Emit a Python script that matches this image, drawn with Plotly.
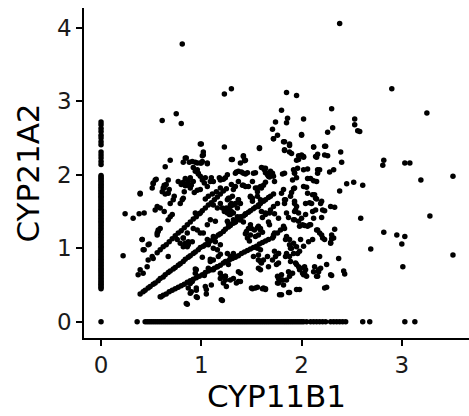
import plotly.graph_objects as go

# x = 0 column (CYP11B1 = 0)
col0_y = [0.00, 2.72, 2.68, 2.63, 2.59, 2.54, 2.50, 2.45, 2.41, 2.31, 2.27, 2.23, 2.18, 2.14,
          1.99, 1.97, 1.95, 1.93, 1.91, 1.89, 1.87, 1.85, 1.83, 1.81, 1.79, 1.77, 1.75, 1.73,
          1.71, 1.69, 1.67, 1.65, 1.63, 1.61, 1.59, 1.57, 1.55, 1.53, 1.51, 1.49, 1.47, 1.45,
          1.43, 1.41, 1.39, 1.37, 1.35, 1.33, 1.31, 1.29, 1.27, 1.25, 1.23, 1.21, 1.19, 1.17,
          1.15, 1.13, 1.11, 1.09, 1.07, 1.05, 1.03, 1.01, 0.99, 0.97, 0.95, 0.93, 0.91, 0.89,
          0.87, 0.85, 0.83, 0.81, 0.79, 0.77, 0.75, 0.73, 0.71, 0.69, 0.67, 0.65, 0.63, 0.61,
          0.59, 0.57, 0.55, 0.53, 0.51, 0.49, 0.47, 0.45]

# y = 0 row (CYP21A2 = 0)
row0_x = [0.36, 0.44, 0.46, 0.48, 0.50, 0.52, 0.54, 0.56, 0.58, 0.60, 0.62, 0.64, 0.66, 0.68,
          0.70, 0.72, 0.74, 0.76, 0.78, 0.80, 0.82, 0.84, 0.86, 0.88, 0.90, 0.92, 0.94, 0.96,
          0.98, 1.00, 1.02, 1.04, 1.06, 1.08, 1.10, 1.12, 1.14, 1.16, 1.18, 1.20, 1.22, 1.24,
          1.26, 1.28, 1.30, 1.32, 1.34, 1.36, 1.38, 1.40, 1.42, 1.44, 1.46, 1.48, 1.50, 1.52,
          1.54, 1.56, 1.58, 1.60, 1.62, 1.64, 1.66, 1.68, 1.70, 1.72, 1.74, 1.76, 1.78, 1.80,
          1.82, 1.84, 1.86, 1.88, 1.90, 1.92, 1.94, 1.96, 1.98, 2.00, 2.02, 2.05, 2.09, 2.12,
          2.15, 2.18, 2.21, 2.24, 2.29, 2.32, 2.35, 2.38, 2.41, 2.44, 2.61, 2.68, 3.03, 3.13]

# main diagonal streak
diag_main_x = [0.39, 0.42, 0.44, 0.47, 0.49, 0.52, 0.54, 0.57, 0.59, 0.62, 0.64, 0.67, 0.69, 0.72,
               0.74, 0.77, 0.79, 0.82, 0.84, 0.87, 0.89, 0.92, 0.94, 0.97, 0.99, 1.02, 1.04, 1.07,
               1.09, 1.12, 1.14, 1.17, 1.19, 1.22, 1.24, 1.27, 1.29, 1.32, 1.34, 1.37, 1.39, 1.42,
               1.44, 1.47, 1.49, 1.52, 1.54, 1.57, 1.59, 1.62, 1.64, 1.67, 1.69, 1.72]
diag_main_y = [0.38, 0.41, 0.43, 0.46, 0.48, 0.51, 0.53, 0.56, 0.59, 0.61, 0.64, 0.67, 0.69, 0.72,
               0.74, 0.77, 0.79, 0.82, 0.85, 0.88, 0.90, 0.93, 0.95, 0.98, 1.01, 1.03, 1.05, 1.08,
               1.10, 1.13, 1.15, 1.18, 1.20, 1.23, 1.26, 1.29, 1.31, 1.34, 1.36, 1.39, 1.41, 1.44,
               1.46, 1.49, 1.51, 1.54, 1.56, 1.59, 1.61, 1.64, 1.66, 1.69, 1.71, 1.74]

# upper diagonal streak
diag_up_x = [0.56, 0.59, 0.62, 0.65, 0.68, 0.71, 0.74, 0.77, 0.80, 0.83, 0.86, 0.89, 0.92, 0.95,
             0.98, 1.01, 1.04, 1.07, 1.10, 1.13, 1.16, 1.19, 1.22, 1.25]
diag_up_y = [0.94, 0.98, 1.02, 1.05, 1.09, 1.13, 1.17, 1.21, 1.24, 1.28, 1.32, 1.36, 1.40, 1.43,
             1.47, 1.51, 1.55, 1.59, 1.62, 1.66, 1.70, 1.74, 1.78, 1.81]

# lower diagonal streak
diag_low_x = [0.59, 0.62, 0.65, 0.68, 0.71, 0.74, 0.77, 0.80, 0.83, 0.86, 0.89, 0.92, 0.95, 0.98,
              1.01, 1.04, 1.07, 1.10, 1.13, 1.16, 1.19, 1.22, 1.25, 1.28, 1.31, 1.34, 1.37, 1.40,
              1.43, 1.46, 1.49, 1.52, 1.55, 1.58, 1.61, 1.64]
diag_low_y = [0.34, 0.36, 0.38, 0.41, 0.43, 0.45, 0.47, 0.49, 0.51, 0.54, 0.56, 0.58, 0.60, 0.62,
              0.64, 0.67, 0.69, 0.71, 0.73, 0.75, 0.77, 0.80, 0.82, 0.84, 0.86, 0.88, 0.90, 0.93,
              0.95, 0.97, 0.99, 1.01, 1.03, 1.06, 1.08, 1.10]

# scattered cells (CYP11B1, CYP21A2)
scatter_pts = [
    (2.38, 4.06), (0.81, 3.78), (1.30, 3.17), (1.23, 3.10), (1.85, 3.12), (1.95, 3.08), (2.90, 3.17),
    (2.30, 2.90), (3.25, 2.84), (0.75, 2.83), (0.80, 2.70), (0.61, 2.74), (1.80, 2.88), (1.86, 2.77),
    (1.85, 2.71), (1.74, 2.72), (2.02, 2.76), (1.71, 2.62), (1.72, 2.49), (1.76, 2.54), (2.31, 2.64),
    (2.26, 2.58), (2.00, 2.55), (2.00, 2.54), (2.53, 2.76), (2.53, 2.68), (2.56, 2.60), (2.58, 2.59),
    (1.83, 2.45), (1.88, 2.40), (1.58, 2.37), (1.23, 2.38), (0.99, 2.42), (2.12, 2.38), (2.24, 2.39),
    (2.39, 2.31), (1.83, 2.34), (1.90, 2.29), (2.00, 2.27), (2.02, 2.25), (2.16, 2.28), (2.14, 2.25),
    (2.26, 2.26), (1.97, 2.21), (2.40, 2.17), (2.82, 2.20), (2.81, 2.13), (3.03, 2.16), (3.08, 2.16),
    (2.52, 1.90), (2.45, 1.88), (2.61, 1.86), (3.19, 1.93), (3.51, 1.98), (2.38, 1.78), (2.33, 1.56),
    (2.59, 1.41), (3.28, 1.44), (2.33, 1.26), (2.82, 1.22), (2.95, 1.18), (3.03, 1.16), (3.00, 1.06),
    (2.69, 0.99), (3.51, 0.91), (3.01, 0.75), (2.37, 0.86), (2.30, 1.13), (2.29, 1.08), (2.21, 1.14),
    (2.25, 0.78), (2.30, 0.63), (2.25, 0.47), (2.42, 0.69), (2.43, 0.65),
    (0.22, 0.90), (0.24, 1.47), (0.32, 1.41), (0.39, 1.75), (0.38, 1.47), (0.43, 1.48), (0.41, 1.12),
    (0.43, 0.98), (0.48, 1.06), (0.37, 0.64), (0.46, 0.75), (0.52, 0.86), (0.67, 0.89), (0.60, 0.34),
    (0.86, 0.24), (1.21, 0.29), (0.89, 0.39), (0.96, 0.33), (0.95, 0.43), (1.05, 0.38), (1.10, 0.50),
    (1.03, 0.63), (0.94, 0.72), (1.01, 0.88), (1.09, 0.85), (1.19, 0.92), (0.91, 0.55), (0.89, 0.52),
    (1.98, 0.44), (1.88, 0.40), (1.80, 0.37), (1.51, 0.45), (1.56, 0.47), (1.61, 0.45), (1.64, 0.45),
    # upper-left cluster
    (1.00, 2.42), (1.02, 2.31), (1.01, 2.26), (0.85, 2.23), (0.69, 2.20), (0.82, 2.17), (0.88, 2.17),
    (0.94, 2.17), (1.00, 2.16), (1.06, 2.15), (0.64, 2.11), (0.92, 2.10), (0.94, 2.05), (0.97, 2.01),
    (0.99, 1.98), (1.04, 1.96), (1.10, 1.96), (1.18, 1.96), (1.24, 1.96), (0.89, 1.96), (0.87, 1.91),
    (0.84, 1.85), (0.67, 1.93), (0.65, 1.87), (0.63, 1.82), (0.55, 1.94), (0.52, 1.88), (0.51, 1.82),
    (0.77, 1.91), (0.80, 1.87), (0.39, 1.74),
    (0.54, 1.93), (0.52, 1.89), (0.63, 1.86), (0.62, 1.82), (0.61, 1.77), (0.64, 1.74), (0.68, 1.80),
    (0.67, 1.75), (0.73, 1.71), (0.72, 1.66), (0.69, 1.61), (0.54, 1.52), (0.56, 1.57), (0.63, 1.50),
    (0.59, 1.55), (0.56, 1.21), (0.57, 1.25), (0.59, 1.27), (0.69, 1.43), (0.67, 1.39), (0.71, 1.46),
    (0.81, 1.66), (0.79, 1.61), (0.82, 1.68), (0.84, 1.95), (0.82, 1.90), (0.86, 1.86), (0.83, 1.77),
    (0.92, 1.91), (0.90, 1.86), (0.89, 1.82), (0.96, 2.07), (0.97, 2.02), (1.01, 1.93), (1.03, 1.89),
    (1.06, 1.84), (0.93, 1.76), (0.96, 1.79), (0.99, 1.80), (1.09, 1.91), (1.12, 1.91), (1.19, 1.93),
    (1.22, 1.94), (1.26, 2.00), (0.99, 2.16), (1.01, 2.18), (1.02, 2.27), (1.06, 2.16), (0.84, 2.23),
    (0.91, 2.18), (0.96, 2.16), (1.04, 1.67), (1.07, 1.71), (1.11, 1.74), (1.15, 1.77), (1.19, 1.82),
    (0.94, 1.48), (0.99, 1.48), (0.96, 1.25), (1.02, 1.21), (0.99, 1.21), (1.06, 1.32), (1.09, 1.39),
    (1.14, 1.37), (1.12, 1.59), (1.16, 1.55), (1.19, 1.61), (1.21, 1.55), (1.23, 1.50), (1.26, 1.53),
    (1.29, 1.57), (1.32, 1.59), (1.26, 1.66), (1.28, 1.68), (1.30, 1.61), (1.29, 1.46), (1.32, 1.39),
    (1.26, 1.37), (1.34, 2.02), (1.37, 2.05), (1.42, 2.02), (1.46, 2.03), (1.42, 2.25), (1.44, 2.20),
    (1.39, 2.16), (1.31, 2.21), (1.37, 1.91), (1.41, 1.86), (1.44, 1.84), (1.51, 1.91), (1.47, 1.84),
    (1.52, 2.02), (1.54, 1.82), (1.56, 1.77), (1.59, 1.84), (1.49, 1.71), (1.51, 1.68), (1.56, 1.71),
    (1.59, 1.66), (1.51, 1.64), (1.37, 1.66), (1.39, 1.61), (1.36, 1.55), (1.32, 1.80), (1.34, 1.84),
    (1.31, 1.71), (1.26, 1.48), (1.32, 1.48), (1.36, 1.43), (1.39, 1.39),
    # right-middle cluster
    (1.69, 2.05), (1.71, 2.02), (1.72, 1.98), (1.73, 1.91), (1.67, 1.98), (1.62, 2.09), (1.64, 2.09),
    (1.66, 2.02), (1.83, 2.02), (1.91, 1.93), (1.93, 2.02), (1.96, 2.09), (2.02, 2.07), (2.09, 1.95),
    (2.15, 1.91), (2.16, 2.07), (2.16, 2.02), (2.02, 1.84), (2.06, 1.75), (2.11, 1.73), (2.14, 1.68),
    (1.93, 1.82), (1.89, 1.71), (1.93, 1.64), (1.82, 1.80), (1.80, 1.75), (1.84, 1.66), (1.83, 1.61),
    (1.76, 1.61), (1.72, 1.57), (1.69, 1.52), (1.64, 1.48), (1.94, 1.52), (1.97, 1.48), (1.92, 1.39),
    (2.04, 1.61), (2.08, 1.62), (2.11, 1.50), (2.04, 1.46), (2.14, 1.52), (2.19, 1.61), (2.21, 1.52),
    (2.01, 1.32), (2.06, 1.30), (2.09, 1.32), (2.16, 1.25), (2.18, 1.21), (1.99, 1.12), (2.02, 1.03),
    (2.07, 1.09), (2.11, 1.12), (1.79, 1.25), (1.76, 1.21), (1.72, 1.18), (1.71, 1.14), (1.67, 1.12),
    (1.84, 1.12), (1.88, 1.05), (1.89, 1.00), (1.92, 0.93), (1.96, 0.93), (1.84, 0.89), (1.89, 0.82),
    (1.94, 0.80), (1.97, 0.75), (1.99, 0.73), (2.01, 0.66), (2.04, 0.71), (2.02, 0.64), (2.12, 0.68),
    (2.17, 0.71), (2.19, 0.73), (2.16, 0.62), (1.76, 0.62), (1.81, 0.57), (1.76, 0.53), (1.82, 0.50),
    (1.88, 0.62), (1.91, 0.66), (1.71, 0.84), (1.74, 0.89), (1.77, 0.93), (1.66, 0.89), (1.62, 0.84),
    (1.59, 0.98), (1.56, 1.00), (1.57, 0.91), (1.52, 0.89), (1.19, 0.66), (1.24, 0.62), (1.29, 0.57),
    (1.32, 0.59), (1.37, 0.55), (1.19, 0.59), (1.16, 0.75), (1.12, 0.71), (1.07, 0.73), (1.26, 0.93),
    (1.29, 0.89), (1.32, 0.93), (1.19, 1.05), (1.16, 0.98), (1.12, 1.00), (0.86, 1.21), (0.82, 1.14),
    (0.87, 1.09), (0.91, 1.09), (0.79, 1.07), (0.82, 1.02), (0.76, 1.12), (0.86, 1.02), (1.06, 1.12),
    (1.12, 1.16), (1.14, 1.09), (1.07, 1.05),
    (1.45, 1.23), (1.47, 1.27), (1.50, 1.27), (1.53, 1.25), (1.56, 1.28), (1.59, 1.25), (1.61, 1.22),
    (1.57, 1.18), (1.54, 1.16), (1.49, 1.18), (1.44, 1.20), (1.46, 1.14), (1.48, 1.10),
    (1.27, 1.34), (1.34, 1.36), (1.39, 1.39), (1.49, 1.32), (1.57, 1.30), (1.59, 1.27), (1.67, 1.36),
    (1.68, 1.32), (1.82, 1.30), (1.83, 1.27), (1.93, 1.39), (1.98, 1.30), (2.03, 1.31), (2.08, 1.32),
    (2.15, 1.25), (2.20, 1.18), (2.23, 1.12), (2.29, 1.07), (2.30, 1.18), (2.32, 1.14), (1.73, 1.21),
    (1.72, 1.16), (1.85, 1.16), (1.88, 1.12), (1.92, 1.07), (1.95, 1.02), (1.98, 0.96), (1.73, 0.96),
    (1.77, 0.93), (1.85, 0.93), (1.88, 0.89), (1.90, 1.00), (2.18, 0.89), (1.57, 0.84), (1.59, 0.82),
    (1.60, 0.80), (1.67, 0.75), (1.75, 0.78), (1.77, 0.80), (1.24, 0.82), (1.27, 0.78), (1.37, 0.68),
    (1.39, 0.66), (1.24, 0.62), (1.35, 0.53), (1.39, 0.55), (1.59, 0.71), (1.57, 0.73), (1.87, 0.68),
    (1.80, 0.64), (1.77, 0.59), (1.77, 0.53), (1.80, 0.57), (1.85, 0.57), (1.95, 0.78), (1.98, 0.71),
    (2.03, 0.75), (2.03, 0.66), (2.05, 0.62), (2.13, 0.75), (2.17, 0.68), (2.15, 0.62), (2.29, 0.64),
    (1.50, 0.46), (1.54, 0.46), (1.62, 0.46), (1.64, 0.44), (1.78, 0.37), (1.87, 0.40), (1.95, 0.44),
    (2.23, 0.46), (1.25, 0.48),
    (1.72, 2.49), (1.82, 2.45), (1.88, 2.42), (1.58, 2.36), (1.83, 2.33), (1.88, 2.31), (2.12, 2.38),
    (2.23, 2.39), (1.97, 2.26), (2.02, 2.24), (1.95, 2.20), (2.15, 2.24), (2.23, 2.27), (1.30, 2.21),
    (1.42, 2.26), (1.43, 2.19), (1.60, 2.10), (1.63, 2.07), (1.64, 2.03), (1.66, 2.00), (1.68, 1.97),
    (1.35, 2.04), (1.40, 2.04), (1.44, 2.01), (1.54, 2.03), (1.81, 2.01), (1.92, 2.07), (1.93, 2.03),
    (2.06, 2.08), (2.18, 2.07), (2.28, 2.04), (2.32, 2.07), (1.30, 1.87), (1.95, 1.96), (2.06, 1.95),
    (2.12, 1.92), (1.64, 1.90), (1.62, 1.86), (1.60, 1.82), (1.56, 1.82), (1.42, 1.86), (2.05, 1.83),
    (1.92, 1.81), (1.90, 1.76), (2.13, 1.73), (2.15, 1.67), (1.83, 1.66), (1.49, 1.70), (1.37, 1.66),
    (1.34, 1.61), (1.27, 1.68), (1.29, 1.59), (1.25, 1.55), (1.30, 1.50), (1.28, 1.46), (1.57, 1.57),
    (1.60, 1.50), (1.64, 1.46), (1.61, 1.42), (1.77, 1.41), (1.73, 1.47), (1.68, 1.48), (1.93, 1.61),
    (1.95, 1.57), (1.93, 1.50), (2.10, 1.61), (2.20, 1.64), (2.23, 1.51), (2.29, 1.57), (2.00, 1.41),
    (1.97, 1.37), (2.12, 1.41), (2.20, 1.42), (1.85, 1.48), (1.87, 1.42), (1.44, 1.47), (1.39, 1.43),
    (1.42, 1.36),
    (0.41, 1.12), (0.47, 1.05), (0.42, 0.98), (0.56, 1.18), (0.57, 1.23), (0.82, 1.14), (0.84, 1.07),
    (0.87, 1.05), (0.92, 1.27), (0.39, 0.71), (0.42, 0.66), (0.51, 0.89), (0.47, 0.84), (1.12, 0.84),
    (1.17, 0.89), (1.09, 0.82), (1.20, 0.62), (1.24, 0.57), (1.22, 0.53), (0.95, 0.71), (0.94, 0.66),
    (0.87, 0.46), (0.90, 0.41), (0.95, 0.46), (1.04, 0.48), (1.05, 0.44), (0.95, 0.34), (0.85, 0.25),
    (1.20, 0.30),
]

xs = [0.0] * len(col0_y) + row0_x
ys = col0_y + [0.0] * len(row0_x)
xs += diag_main_x + diag_up_x + diag_low_x + [p[0] for p in scatter_pts]
ys += diag_main_y + diag_up_y + diag_low_y + [p[1] for p in scatter_pts]

fig = go.Figure(go.Scatter(
    x=xs, y=ys, mode="markers",
    marker=dict(color="black", size=5.5, line=dict(width=0)),
    hoverinfo="skip",
))

axis_common = dict(
    showline=True, linecolor="black", linewidth=1.5,
    ticks="outside", ticklen=6, tickwidth=1.5, tickcolor="black",
    showgrid=False, zeroline=False,
    tickfont=dict(family="DejaVu Sans", size=23, color="#1a1a1a"),
    title_font=dict(family="DejaVu Sans", size=31, color="black"),
)

fig.update_layout(
    width=469, height=416,
    margin=dict(l=84, r=0, t=8, b=78),
    plot_bgcolor="white", paper_bgcolor="white",
    showlegend=False,
    xaxis=dict(range=[-0.17, 3.67], tickvals=[0, 1, 2, 3], title=dict(text="CYP11B1", standoff=6),
               **axis_common),
    yaxis=dict(range=[-0.22, 4.27], tickvals=[0, 1, 2, 3, 4], title=dict(text="CYP21A2", standoff=8),
               **axis_common),
)

fig.write_html("out.html")
